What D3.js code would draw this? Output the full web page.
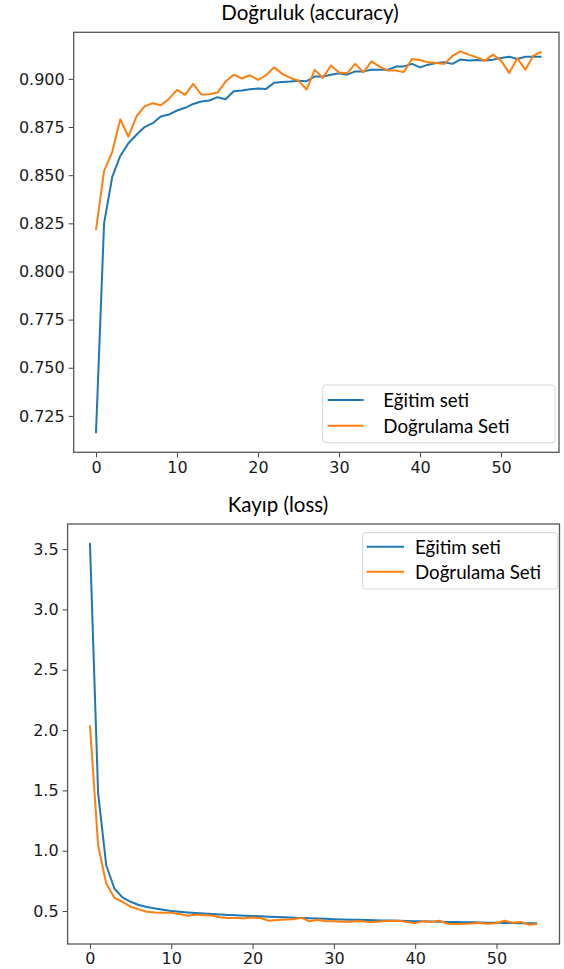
<!DOCTYPE html>
<html>
<head>
<meta charset="utf-8">
<script src="https://cdn.jsdelivr.net/npm/d3@7"></script>
<style>
  html, body { margin: 0; padding: 0; background: #fff; }
  svg { display: block; }
</style>
</head>
<body>
<svg id="chart" width="564" height="969"></svg>
<script>
// ---------- DATA ----------
const epochs = d3.range(0, 56);

const accTrain = [0.716, 0.825, 0.849, 0.860, 0.8666, 0.871, 0.875, 0.877, 0.8805, 0.8815,
  0.8836, 0.885, 0.887, 0.8883, 0.8888, 0.8905, 0.8894, 0.8936, 0.894, 0.8946,
  0.895, 0.8948, 0.898, 0.8984, 0.8986, 0.899, 0.8988, 0.9012, 0.9012, 0.9022,
  0.9029, 0.9022, 0.9039, 0.9039, 0.9047, 0.9047, 0.9047, 0.9064, 0.9065, 0.9078,
  0.906, 0.9074, 0.9083, 0.9086, 0.9078, 0.9101, 0.9095, 0.9098, 0.9095, 0.910,
  0.9109, 0.9115, 0.9103, 0.9115, 0.9115, 0.9115];

const accVal = [0.8215, 0.8522, 0.862, 0.879, 0.870, 0.8806, 0.8857, 0.8874, 0.8863, 0.8896,
  0.8943, 0.8917, 0.8974, 0.8919, 0.892, 0.8929, 0.8986, 0.9022, 0.9002, 0.9019,
  0.8995, 0.9019, 0.906, 0.9026, 0.9005, 0.8991, 0.8945, 0.9047, 0.9005, 0.907,
  0.9033, 0.9029, 0.9078, 0.9034, 0.9091, 0.9064, 0.9043, 0.9043, 0.9036, 0.9103,
  0.9098, 0.9086, 0.9083, 0.9078, 0.9119, 0.9143, 0.9126, 0.9112, 0.9095, 0.9126,
  0.9095, 0.9031, 0.9107, 0.9048, 0.9121, 0.9141];

const lossTrain = [3.55, 1.48, 0.88, 0.687, 0.613, 0.577, 0.55, 0.533, 0.522, 0.511,
  0.500, 0.494, 0.489, 0.484, 0.480, 0.476, 0.472, 0.468, 0.465, 0.462,
  0.459, 0.456, 0.453, 0.450, 0.448, 0.445, 0.443, 0.440, 0.438, 0.436,
  0.433, 0.431, 0.429, 0.428, 0.426, 0.424, 0.422, 0.421, 0.419, 0.418,
  0.416, 0.415, 0.413, 0.412, 0.410, 0.409, 0.408, 0.407, 0.405, 0.404,
  0.403, 0.402, 0.401, 0.400, 0.399, 0.398];

const lossVal = [2.04, 1.045, 0.728, 0.61, 0.577, 0.536, 0.514, 0.495, 0.489, 0.485,
  0.485, 0.475, 0.461, 0.472, 0.466, 0.464, 0.448, 0.443, 0.443, 0.440,
  0.446, 0.443, 0.420, 0.425, 0.430, 0.432, 0.445, 0.415, 0.428, 0.415,
  0.415, 0.412, 0.412, 0.418, 0.412, 0.410, 0.415, 0.418, 0.420, 0.410,
  0.400, 0.415, 0.410, 0.420, 0.395, 0.393, 0.395, 0.397, 0.401, 0.395,
  0.401, 0.420, 0.404, 0.410, 0.387, 0.393];

const xTicks = [0, 10, 20, 30, 40, 50];
const accTicks = [0.725, 0.750, 0.775, 0.800, 0.825, 0.850, 0.875, 0.900];
const lossTicks = [0.5, 1.0, 1.5, 2.0, 2.5, 3.0, 3.5];

const seriesNames = ["Eğitim seti", "Doğrulama Seti"];
const colors = ["#1f77b4", "#ff7f0e"];
const titles = ["Doğruluk (accuracy)", "Kayıp (loss)"];

// ---------- DRAW ----------
const svg = d3.select("#chart");
svg.append("rect").attr("width", 564).attr("height", 969).attr("fill", "#fff");

const tickFont = "'DejaVu Sans', sans-serif";
const textFont = "Lato, 'Open Sans', sans-serif";

function panel(cfg) {
  const g = svg.append("g");
  const x = d3.scaleLinear().domain(cfg.xDomain).range([cfg.left, cfg.right]);
  const y = d3.scaleLinear().domain(cfg.yDomain).range([cfg.bottom, cfg.top]);

  const xa = g.append("g").attr("transform", `translate(0,${cfg.bottom})`)
    .call(d3.axisBottom(x).tickValues(xTicks).tickFormat(d3.format("d")).tickSize(5).tickPadding(4));
  const ya = g.append("g").attr("transform", `translate(${cfg.left},0)`)
    .call(d3.axisLeft(y).tickValues(cfg.yTicks).tickFormat(d3.format(cfg.yFmt)).tickSize(5).tickPadding(4));
  [xa, ya].forEach(a => {
    a.select(".domain").remove();
    a.selectAll(".tick line").attr("stroke", "#444").attr("stroke-width", 1);
    a.selectAll(".tick text").attr("fill", "#1a1a1a").style("font-family", tickFont).style("font-size", "16px");
  });

  const line = (vals) => d3.line().x((d, i) => x(epochs[i])).y(d => y(d))(vals);
  [cfg.train, cfg.val].forEach((vals, k) => {
    g.append("path").attr("d", line(vals)).attr("fill", "none")
      .attr("stroke", colors[k]).attr("stroke-width", 2).attr("stroke-linejoin", "round");
  });

  g.append("rect").attr("x", cfg.left).attr("y", cfg.top)
    .attr("width", cfg.right - cfg.left).attr("height", cfg.bottom - cfg.top)
    .attr("fill", "none").attr("stroke", "#555").attr("stroke-width", 1.3);

  g.append("text").attr("x", cfg.titleX).attr("y", cfg.titleY).attr("text-anchor", "middle")
    .style("font-family", textFont).style("font-size", "20.5px").attr("fill", "#000").text(cfg.title);

  const L = cfg.legend;
  const lg = g.append("g");
  lg.append("rect").attr("x", L.x).attr("y", L.y).attr("width", L.w).attr("height", L.h)
    .attr("rx", 3).attr("fill", "#fff").attr("fill-opacity", 0.9)
    .attr("stroke", "#d6d6d6").attr("stroke-width", 1);
  seriesNames.forEach((name, k) => {
    const yy = L.y + L.row0 + k * L.rowH;
    lg.append("line").attr("x1", L.x + L.lx1).attr("x2", L.x + L.lx2)
      .attr("y1", yy).attr("y2", yy).attr("stroke", colors[k]).attr("stroke-width", 2);
    lg.append("text").attr("x", L.x + L.tx).attr("y", yy + 7)
      .style("font-family", textFont).style("font-size", "18.7px").attr("fill", "#000").text(name);
  });
}

panel({
  left: 73.7, right: 559, top: 32.3, bottom: 452.3,
  xDomain: [-2.75, 57.15], yDomain: [0.7061, 0.9242],
  yTicks: accTicks, yFmt: ".3f",
  train: accTrain, val: accVal,
  title: titles[0], titleX: 310, titleY: 20,
  legend: { x: 322.7, y: 385, w: 232.3, h: 57.7, row0: 15, rowH: 25.7, lx1: 5, lx2: 41, tx: 60.6 }
});

panel({
  left: 67.6, right: 559.5, top: 524, bottom: 944,
  xDomain: [-2.75, 57.75], yDomain: [0.227, 3.708],
  yTicks: lossTicks, yFmt: ".1f",
  train: lossTrain, val: lossVal,
  title: titles[1], titleX: 278, titleY: 512,
  legend: { x: 362.7, y: 532.7, w: 195, h: 56.3, row0: 14, rowH: 25, lx1: 4, lx2: 41.3, tx: 52.3 }
});
</script>
</body>
</html>
